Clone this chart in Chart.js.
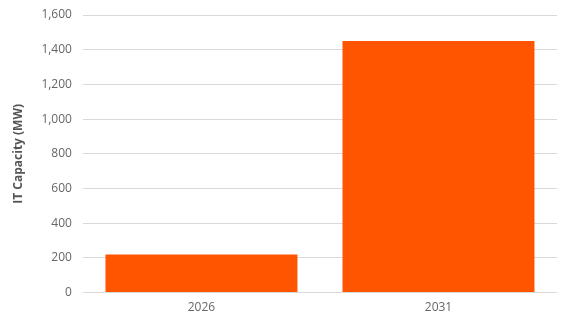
<!DOCTYPE html>
<html><head><meta charset="utf-8">
<script src="https://cdn.jsdelivr.net/npm/chart.js@4/dist/chart.umd.min.js"></script>
<style>html,body{margin:0;padding:0;background:#fff}#w{width:573px;height:326px}</style>
</head><body><div id="w"><canvas id="c"></canvas></div>
<script>
const categories = ["2026", "2031"];
const capacity = [220, 1450];
const yTicks = [0, 200, 400, 600, 800, 1000, 1200, 1400, 1600];
const yTitle = "IT Capacity (MW)";

new Chart(document.getElementById('c'), {
  type: 'bar',
  data: { labels: categories, datasets: [{ data: capacity, backgroundColor: '#FF5500', barPercentage: 0.81, categoryPercentage: 1 }] },
  options: {
    responsive: true, maintainAspectRatio: false, animation: false,
    layout: { padding: { top: 15, right: 16, left: 7, bottom: 3 } },
    plugins: { legend: { display: false }, tooltip: { enabled: false } },
    scales: {
      x: {
        grid: { display: false, drawTicks: false },
        border: { display: false },
        ticks: { color: '#666', font: { family: 'Open Sans', size: 12 }, padding: 8 }
      },
      y: {
        min: 0, max: 1600,
        afterBuildTicks: s => { s.ticks = yTicks.map(v => ({ value: v })); },
        afterFit: s => { s.paddingTop = 0; },
        grid: { color: '#d9d9d9', drawTicks: false },
        border: { display: false },
        ticks: { color: '#666', font: { family: 'Open Sans', size: 12 }, padding: 11,
                 callback: v => v.toLocaleString('en-US') },
        title: { display: true, text: yTitle, color: '#555', font: { family: 'Open Sans', size: 12, weight: 'bold' }, padding: { bottom: 5 } }
      }
    }
  }
});
</script></body></html>
